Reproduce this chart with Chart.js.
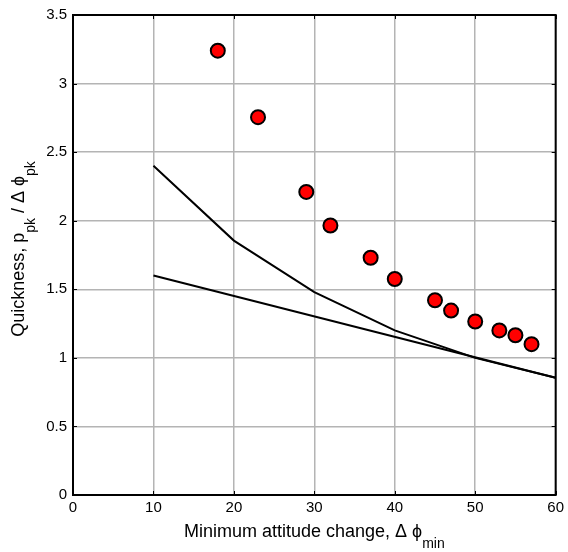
<!DOCTYPE html>
<html>
<head>
<meta charset="utf-8">
<script src="https://cdn.jsdelivr.net/npm/chart.js@4/dist/chart.umd.min.js"></script>
<style>
  html, body { margin: 0; padding: 0; background: #fff; }
  #wrap { width: 568px; height: 552px; position: relative; }
</style>
</head>
<body>
<div id="wrap"><canvas id="chart"></canvas></div>
<script>
// Measured manoeuvres: minimum attitude change vs. quickness
const flightAttitude = [18, 23, 29, 32, 37, 40, 45, 47, 50, 53, 55, 57];
const flightQuickness = [3.24, 2.755, 2.21, 1.965, 1.73, 1.575, 1.42, 1.345, 1.265, 1.2, 1.165, 1.1];

// Level boundaries
const upperAttitude = [10, 20, 30, 40, 50, 60];
const upperQuickness = [2.4, 1.855, 1.48, 1.2, 1.0, 0.855];
const lowerAttitude = [10, 60];
const lowerQuickness = [1.6, 0.855];

// Axis ticks
const xTicks = [0, 10, 20, 30, 40, 50, 60];
const yTicks = [0, 0.5, 1, 1.5, 2, 2.5, 3, 3.5];

const FONT = '"Liberation Sans", Arial, Helvetica, sans-serif';

function pairs(xs, ys) {
  return xs.map((x, i) => ({ x: x, y: ys[i] }));
}

// Draws a text run made of normal and subscript pieces, centred on (0,0) baseline
function drawRuns(ctx, runs, size) {
  const subSize = Math.round(size * 0.75);
  const widths = runs.map(r => {
    ctx.font = (r.sub ? subSize : size) + 'px ' + FONT;
    return ctx.measureText(r.t).width;
  });
  const total = widths.reduce((a, b) => a + b, 0);
  let x = -total / 2;
  ctx.textAlign = 'left';
  ctx.textBaseline = 'alphabetic';
  ctx.fillStyle = '#000';
  runs.forEach((r, i) => {
    ctx.font = (r.sub ? subSize : size) + 'px ' + FONT;
    ctx.fillText(r.t, x, r.sub ? Math.round(size * 0.6) : 0);
    x += widths[i];
  });
}

const framePlugin = {
  id: 'frameAndTitles',
  afterDraw(chart) {
    const ctx = chart.ctx;
    const a = chart.chartArea;
    const xs = chart.scales.x, ys = chart.scales.y;
    ctx.save();
    // inward tick marks on all four sides
    ctx.strokeStyle = '#000';
    ctx.lineWidth = 1;
    const tl = 4;
    xTicks.forEach(v => {
      const px = Math.round(xs.getPixelForValue(v)) + 0.5;
      ctx.beginPath();
      ctx.moveTo(px, a.bottom); ctx.lineTo(px, a.bottom - tl);
      ctx.moveTo(px, a.top); ctx.lineTo(px, a.top + tl);
      ctx.stroke();
    });
    yTicks.forEach(v => {
      const py = Math.round(ys.getPixelForValue(v)) + 0.5;
      ctx.beginPath();
      ctx.moveTo(a.left, py); ctx.lineTo(a.left + tl, py);
      ctx.moveTo(a.right, py); ctx.lineTo(a.right - tl, py);
      ctx.stroke();
    });
    // box
    ctx.lineWidth = 2;
    ctx.strokeRect(a.left, a.top, a.right - a.left, a.bottom - a.top);

    // x title
    ctx.save();
    ctx.translate((a.left + a.right) / 2, 537);
    drawRuns(ctx, [
      { t: 'Minimum attitude change, \u0394 \u03D5', sub: false },
      { t: 'min', sub: true }
    ], 18);
    ctx.restore();

    // y title
    ctx.save();
    ctx.translate(24, 249);
    ctx.rotate(-Math.PI / 2);
    drawRuns(ctx, [
      { t: 'Quickness, p', sub: false },
      { t: 'pk', sub: true },
      { t: ' / \u0394 \u03D5', sub: false },
      { t: 'pk', sub: true }
    ], 18);
    ctx.restore();
    ctx.restore();
  }
};

new Chart(document.getElementById('chart'), {
  type: 'scatter',
  data: {
    datasets: [
      {
        label: 'Flight data',
        data: pairs(flightAttitude, flightQuickness),
        backgroundColor: '#ff0000',
        borderColor: '#000000',
        borderWidth: 2,
        pointRadius: 7,
        pointHoverRadius: 7,
        showLine: false,
        order: 0
      },
      {
        label: 'Upper boundary',
        data: pairs(upperAttitude, upperQuickness),
        showLine: true,
        borderColor: '#000000',
        borderWidth: 2,
        pointRadius: 0,
        fill: false,
        order: 1
      },
      {
        label: 'Lower boundary',
        data: pairs(lowerAttitude, lowerQuickness),
        showLine: true,
        borderColor: '#000000',
        borderWidth: 2,
        pointRadius: 0,
        fill: false,
        order: 1
      }
    ]
  },
  options: {
    responsive: true,
    maintainAspectRatio: false,
    animation: false,
    layout: { padding: { top: 11, right: 9, left: 0, bottom: 0 } },
    plugins: { legend: { display: false }, tooltip: { enabled: false } },
    scales: {
      x: {
        type: 'linear',
        min: 0, max: 60,
        afterBuildTicks: s => { s.ticks = xTicks.map(v => ({ value: v })); },
        afterFit: s => { s.height = 57; },
        grid: { color: '#b4b4b4', lineWidth: 1.5, drawTicks: false },
        border: { display: false },
        ticks: { color: '#000', padding: 4, maxRotation: 0, font: { family: FONT, size: 15 },
                 callback: v => String(v) }
      },
      y: {
        type: 'linear',
        min: 0, max: 3.5,
        afterBuildTicks: s => { s.ticks = yTicks.map(v => ({ value: v })); },
        afterFit: s => { s.width = 73; },
        grid: { color: '#b4b4b4', lineWidth: 1.5, drawTicks: false },
        border: { display: false },
        ticks: { color: '#000', padding: 6, font: { family: FONT, size: 15 },
                 callback: v => String(v) }
      }
    }
  },
  plugins: [framePlugin]
});
</script>
</body>
</html>
